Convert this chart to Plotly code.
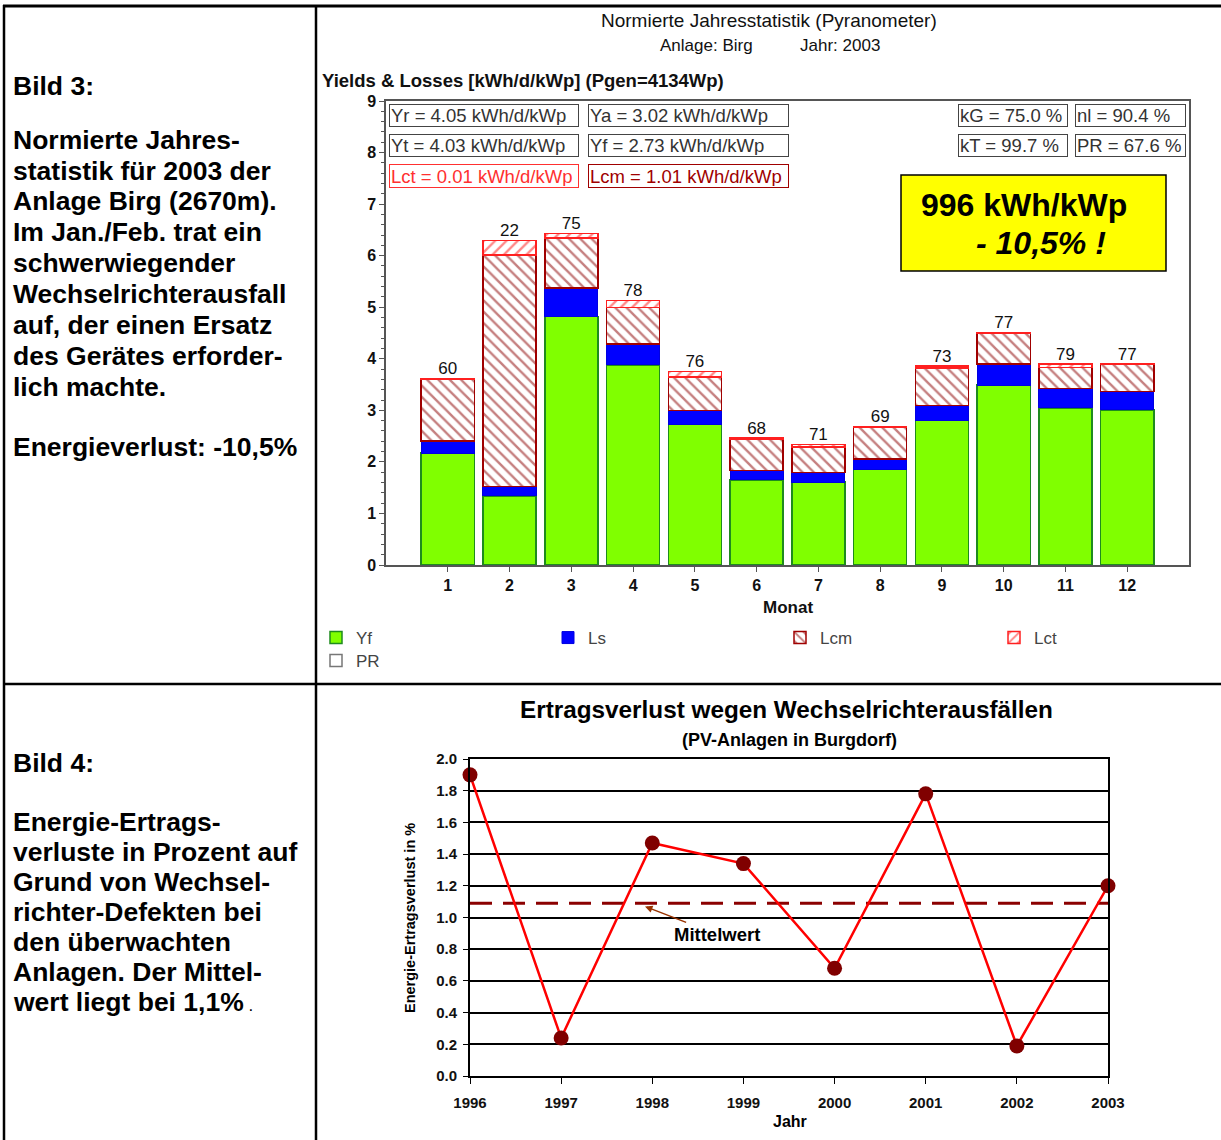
import plotly.graph_objects as go

# ---------------- data ----------------
months = [1, 2, 3, 4, 5, 6, 7, 8, 9, 10, 11, 12]
yf = [2.17, 1.34, 4.82, 3.88, 2.73, 1.65, 1.61, 1.86, 2.81, 3.49, 3.05, 3.01]
ls = [0.24, 0.18, 0.55, 0.41, 0.27, 0.18, 0.18, 0.20, 0.28, 0.41, 0.37, 0.36]
lcm = [1.20, 4.49, 0.97, 0.70, 0.65, 0.61, 0.50, 0.62, 0.73, 0.59, 0.41, 0.52]
lct = [0.01, 0.28, 0.09, 0.14, 0.10, 0.02, 0.05, 0.01, 0.04, 0.02, 0.07, 0.01]
pr = [60, 22, 75, 78, 76, 68, 71, 69, 73, 77, 79, 77]

years = [1996, 1997, 1998, 1999, 2000, 2001, 2002, 2003]
loss = [1.90, 0.24, 1.47, 1.34, 0.68, 1.78, 0.19, 1.20]
mean_loss = 1.09

stats_left = ["Yr = 4.05 kWh/d/kWp", "Yt = 4.03 kWh/d/kWp", "Lct = 0.01 kWh/d/kWp"]
stats_mid = ["Ya = 3.02 kWh/d/kWp", "Yf = 2.73 kWh/d/kWp", "Lcm = 1.01 kWh/d/kWp"]
stats_right1 = ["kG = 75.0 %", "kT = 99.7 %"]
stats_right2 = ["nl = 90.4 %", "PR = 67.6 %"]

text3 = ["Bild 3:", "", "Normierte Jahres-", "statistik für 2003 der", "Anlage Birg (2670m).",
         "Im Jan./Feb. trat ein", "schwerwiegender", "Wechselrichterausfall",
         "auf, der einen Ersatz", "des Gerätes erforder-", "lich machte.", "", "Energieverlust: -10,5%"]
text4 = ["Bild 4:", "", "Energie-Ertrags-", "verluste in Prozent auf", "Grund von Wechsel-",
         "richter-Defekten bei", "den überwachten", "Anlagen. Der Mittel-",
         "wert liegt bei 1,1%<span style='font-weight:normal;font-size:17px'> .</span>"]

W, H = 1221, 1140
FONT = "Liberation Sans, Arial, sans-serif"


def px(x):
    return x / W


def py(y):
    return 1 - y / H


totals = [a + b + c + d for a, b, c, d in zip(yf, ls, lcm, lct)]

fig = go.Figure()

# ---------------- top chart ----------------
bw = 0.86
fig.add_trace(go.Bar(x=months, y=yf, name="Yf", width=bw,
                     marker=dict(color="#80FF00", line=dict(color="#1E8B1E", width=1.5)),
                     legendwidth=187, xaxis="x", yaxis="y"))
fig.add_trace(go.Bar(x=months, y=ls, name="Ls", width=bw,
                     marker=dict(color="#0000FF", line=dict(color="#0000E0", width=1)),
                     legendwidth=187, xaxis="x", yaxis="y"))
fig.add_trace(go.Bar(x=months, y=lcm, name="Lcm", width=bw,
                     marker=dict(color="white", line=dict(color="#A00000", width=1.5),
                                 pattern=dict(shape="\\", fgcolor="#8B0000", bgcolor="white",
                                              size=8, solidity=0.3)),
                     legendwidth=169, xaxis="x", yaxis="y"))
fig.add_trace(go.Bar(x=months, y=lct, name="Lct", width=bw,
                     marker=dict(color="white", line=dict(color="#FF2020", width=1.5),
                                 pattern=dict(shape="/", fgcolor="#FF1010", bgcolor="white",
                                              size=8, solidity=0.3)),
                     xaxis="x", yaxis="y"))
fig.add_trace(go.Bar(x=[None], y=[None], name="PR", legend="legend2",
                     marker=dict(color="white", line=dict(color="#777777", width=1.5)),
                     xaxis="x", yaxis="y"))
fig.add_trace(go.Scatter(x=months, y=totals, text=[str(v) for v in pr], mode="text",
                         textposition="top center", showlegend=False,
                         textfont=dict(size=17, color="#111", family=FONT),
                         cliponaxis=False, xaxis="x", yaxis="y"))

# ---------------- bottom chart ----------------
fig.add_trace(go.Scatter(x=[years[0], years[-1]], y=[mean_loss, mean_loss], mode="lines",
                         line=dict(color="#8B0000", width=3, dash="22px,11px"),
                         showlegend=False, cliponaxis=False, xaxis="x2", yaxis="y2"))
fig.add_trace(go.Scatter(x=years, y=loss, mode="lines+markers",
                         line=dict(color="#FF0000", width=2.5),
                         marker=dict(color="#800000", size=15),
                         showlegend=False, cliponaxis=False, xaxis="x2", yaxis="y2"))

fig.update_layout(
    width=W, height=H, margin=dict(l=0, r=0, t=0, b=0, pad=0, autoexpand=False),
    autosize=False,
    paper_bgcolor="white", plot_bgcolor="white",
    barmode="stack",
    font=dict(family=FONT, color="#111"),
    xaxis=dict(domain=[px(386), px(1189)], range=[0, 13], tickvals=months,
               ticks="outside", ticklen=5, tickcolor="#555", showline=True, mirror=True,
               linecolor="#555", linewidth=1.5, showgrid=False, zeroline=False,
               automargin=False,
               tickfont=dict(size=16, weight="bold", color="#111")),
    yaxis=dict(domain=[py(565), py(101)], range=[0, 9], dtick=1,
               ticks="outside", ticklen=5, tickcolor="#555", showline=True, mirror=True,
               linecolor="#555", linewidth=1.5, showgrid=False, zeroline=False,
               automargin=False,
               minor=dict(dtick=0.2, ticks="outside", ticklen=3, tickcolor="#555"),
               tickfont=dict(size=16, weight="bold", color="#111")),
    xaxis2=dict(domain=[px(470), px(1108)], range=[1996, 2003], tickvals=years,
                ticks="outside", ticklen=6, tickcolor="black", showline=True, mirror=True,
                linecolor="black", linewidth=2, showgrid=False, zeroline=False,
                ticklabelstandoff=6, anchor="y2", automargin=False,
                tickfont=dict(size=15, weight="bold", color="#111")),
    yaxis2=dict(domain=[py(1076), py(759)], range=[0, 2], dtick=0.2, tickformat=".1f",
                ticks="outside", ticklen=5, tickcolor="black", showline=True, mirror=True,
                linecolor="black", linewidth=2, showgrid=True, gridcolor="black",
                gridwidth=1.5, zeroline=False, anchor="x2", automargin=False,
                ticklabelstandoff=3,
                tickfont=dict(size=15, weight="bold", color="#111")),
    legend=dict(orientation="h", x=px(316), y=py(620), xanchor="left", yanchor="top",
                traceorder="normal",
                bgcolor="rgba(0,0,0,0)", font=dict(size=17, color="#444", family=FONT)),
    legend2=dict(orientation="h", x=px(316), y=py(643), xanchor="left", yanchor="top",
                 bgcolor="rgba(0,0,0,0)", font=dict(size=17, color="#444", family=FONT)),
    showlegend=True,
)

ann = []


def text_at(x, y, s, size, bold=False, color="#111", anchor="center", italic=False, angle=0):
    ann.append(dict(xref="paper", yref="paper", x=px(x), y=py(y), text=s, showarrow=False,
                    xanchor=anchor, yanchor="middle", textangle=angle,
                    font=dict(size=size, color=color, family=FONT,
                              weight="bold" if bold else "normal",
                              style="italic" if italic else "normal")))


# left panel texts
ys3 = [86, 0, 140, 171, 201, 232, 263, 294, 325, 356, 387, 0, 447]
for s, yy in zip(text3, ys3):
    if s:
        text_at(11, yy, s, 26.5, bold=True, color="black", anchor="left")
ys4 = [763, 0, 822, 852, 882, 912, 942, 972, 1002]
for s, yy in zip(text4, ys4):
    if s:
        text_at(11, yy, s, 26.5, bold=True, color="black", anchor="left")

# top chart titles
text_at(769, 20, "Normierte Jahresstatistik (Pyranometer)", 19)
text_at(706, 45, "Anlage: Birg", 17)
text_at(840, 45, "Jahr: 2003", 17)
text_at(320, 80, "Yields &amp; Losses [kWh/d/kWp] (Pgen=4134Wp)", 18.5, bold=True, anchor="left")
text_at(788, 607, "Monat", 17, bold=True)


def box(x0, y0, x1, y1, s, color, bcolor):
    ann.append(dict(xref="paper", yref="paper", x=px(x0), y=py(y0), xanchor="left",
                    yanchor="top", text=s, showarrow=False, align="left",
                    font=dict(size=18.5, color=color, family=FONT),
                    bordercolor=bcolor, borderwidth=1, borderpad=1,
                    width=x1 - x0 - 4, height=y1 - y0 - 4, bgcolor="white"))


rows = [(104, 127), (134, 157), (164, 188)]
lcolors = [("#333", "#444"), ("#333", "#444"), ("#FF3030", "#FF3030")]
mcolors = [("#333", "#444"), ("#333", "#444"), ("#A00000", "#A00000")]
for i, (y0, y1) in enumerate(rows):
    box(389, y0, 579, y1, stats_left[i], *lcolors[i])
    box(588, y0, 789, y1, stats_mid[i], *mcolors[i])
for i, (y0, y1) in enumerate(rows[:2]):
    box(958, y0, 1068, y1, stats_right1[i], "#333", "#444")
    box(1075, y0, 1186, y1, stats_right2[i], "#333", "#444")

# yellow highlight box
text_at(1024, 205, "996 kWh/kWp", 32, bold=True, color="black")
text_at(1041, 243, "- 10,5% !", 32, bold=True, italic=True, color="black")

# bottom chart texts
text_at(786, 709, "Ertragsverlust wegen Wechselrichterausfällen", 24.3, bold=True, color="black")
text_at(789, 740, "(PV-Anlagen in Burgdorf)", 18, bold=True, color="black")
text_at(790, 1121, "Jahr", 16, bold=True, color="black")
text_at(410, 918, "Energie-Ertragsverlust in %", 14.5, bold=True, color="black", angle=-90)

# Mittelwert annotation with arrow
ann.append(dict(xref="x2", yref="y2", x=1997.92, y=mean_loss - 0.02,
                text="Mittelwert", showarrow=True, arrowhead=2, arrowsize=1, arrowwidth=1.5,
                arrowcolor="#993300", ax=72, ay=28, standoff=0,
                font=dict(size=18.5, color="black", family=FONT, weight="bold")))

fig.update_layout(annotations=ann)

shapes = [
    # yellow box
    dict(type="rect", xref="paper", yref="paper", x0=px(901), x1=px(1166), y0=py(271), y1=py(175),
         fillcolor="#FFFF00", line=dict(color="black", width=1.5), layer="below"),
    # table frame
    dict(type="line", xref="paper", yref="paper", x0=px(3), x1=px(1221), y0=py(6), y1=py(6),
         line=dict(color="black", width=3)),
    dict(type="line", xref="paper", yref="paper", x0=px(4), x1=px(4), y0=py(5), y1=py(1140),
         line=dict(color="black", width=2.5)),
    dict(type="line", xref="paper", yref="paper", x0=px(316), x1=px(316), y0=py(5), y1=py(1140),
         line=dict(color="black", width=2.5)),
    dict(type="line", xref="paper", yref="paper", x0=px(3), x1=px(1221), y0=py(684), y1=py(684),
         line=dict(color="black", width=2.5)),
]
fig.update_layout(shapes=shapes)

fig.write_html("out.html", config={"displayModeBar": False},
               post_script="document.body.style.margin='0px';document.body.style.overflow='hidden';")
